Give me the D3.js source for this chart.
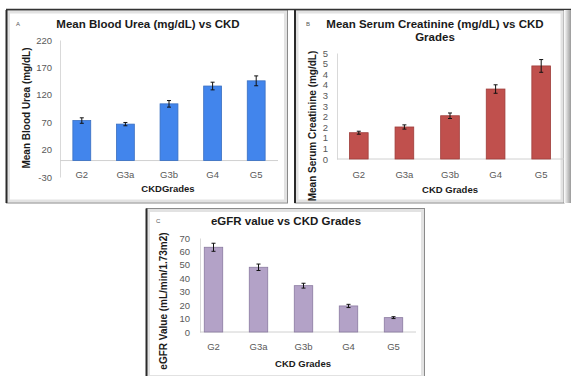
<!DOCTYPE html>
<html>
<head>
<meta charset="utf-8">
<script src="https://cdn.jsdelivr.net/npm/d3@7"></script>
<style>
  body { margin: 0; background: #fff; }
  text { font-family: "Liberation Sans", Arial, sans-serif; }
  .tick text { fill: #595959; font-size: 9.5px; }
  .title { font-weight: bold; font-size: 11.5px; fill: #1a1a1a; }
  .axisLabel { font-weight: bold; font-size: 9.5px; fill: #1a1a1a; }
  .yLabel { font-weight: bold; font-size: 10px; fill: #1a1a1a; }
  .letter { font-size: 6px; fill: #555; }
</style>
</head>
<body>
<div id="chart"></div>
<script>
// data
var grades = ["G2", "G3a", "G3b", "G4", "G5"];

var ureaMeans = [73, 66.5, 103.5, 136, 145.5];
var ureaErr = [5, 3, 6, 7, 9];
var ureaTicks = [-30, 20, 70, 120, 170, 220];

var creatMeans = [1.24, 1.51, 2.04, 3.3, 4.39];
var creatErr = [0.07, 0.1, 0.13, 0.2, 0.3];
var creatTicks = [0, 0.5, 1, 1.5, 2, 2.5, 3, 3.5, 4, 4.5, 5];
var creatTickLabels = ["0", "1", "1", "2", "2", "3", "3", "4", "4", "5", "5"];

var egfrMeans = [63.1, 48.2, 34.5, 19.4, 10.7];
var egfrErr = [3, 2.4, 1.8, 1.2, 0.7];
var egfrTicks = [0, 10, 20, 30, 40, 50, 60, 70];

var svg = d3.select("#chart")
    .append("svg")
    .attr("width", 571)
    .attr("height", 376);

svg.append("rect").attr("width", 571).attr("height", 376).attr("fill", "#fff");

// frames
function frame(x, y, w, h) {
    var g = svg.append("g");
    g.append("rect")
        .attr("x", x + 2).attr("y", y + 2)
        .attr("width", w - 4).attr("height", h - 4)
        .attr("fill", "none").attr("stroke", "#e2e2e2").attr("stroke-width", 3);
    g.append("rect")
        .attr("x", x).attr("y", y)
        .attr("width", w).attr("height", h)
        .attr("fill", "none").attr("stroke", "#8a8a8a").attr("stroke-width", 1);
    g.append("line")
        .attr("x1", x).attr("x2", x).attr("y1", y).attr("y2", y + h)
        .attr("stroke", "#2a2a2a").attr("stroke-width", 2);
}
frame(6.5, 10, 281, 193);
frame(295, 10, 269, 193);
frame(146.5, 208.5, 278, 170);
// dark top line across the upper pair
svg.append("line")
    .attr("x1", 6).attr("x2", 571).attr("y1", 9.5).attr("y2", 9.5)
    .attr("stroke", "#333").attr("stroke-width", 1.5);
// shadow on right side
var grad = svg.append("defs").append("linearGradient").attr("id", "shade");
grad.append("stop").attr("offset", "0%").attr("stop-color", "#fff");
grad.append("stop").attr("offset", "100%").attr("stop-color", "#9a9a9a");
svg.append("rect").attr("x", 564).attr("y", 10).attr("width", 7).attr("height", 193).attr("fill", "url(#shade)");

function drawPanel(opt) {
    var g = svg.append("g");

    var x = d3.scaleBand()
        .domain(grades)
        .range(opt.xRange)
        .paddingInner(opt.pad)
        .paddingOuter(opt.pad / 2);

    var y = d3.scaleLinear()
        .domain(opt.yDomain)
        .range(opt.yRange);

    var leftAxis = d3.axisLeft(y)
        .tickValues(opt.ticks)
        .tickSize(0)
        .tickPadding(opt.tickPad)
        .tickFormat(function(d, i) { return opt.tickLabels ? opt.tickLabels[i] : d; });

    var ya = g.append("g")
        .attr("transform", "translate(" + opt.axisX + ",0)")
        .call(leftAxis);
    ya.select(".domain").attr("stroke", "#d9d9d9");

    // baseline at zero
    g.append("line")
        .attr("x1", opt.axisX).attr("x2", opt.xRange[1])
        .attr("y1", y(0)).attr("y2", y(0))
        .attr("stroke", "#d0d0d0").attr("stroke-width", 1);

    // category labels
    g.selectAll(".cat")
        .data(grades)
        .enter()
        .append("text")
        .attr("x", d => x(d) + x.bandwidth() / 2)
        .attr("y", opt.catY)
        .attr("text-anchor", "middle")
        .attr("font-size", 9.5)
        .attr("fill", "#595959")
        .text(d => d);

    // bars
    g.selectAll(".bar")
        .data(opt.means)
        .enter()
        .append("rect")
        .attr("x", (d, i) => x(grades[i]))
        .attr("width", x.bandwidth())
        .attr("y", d => y(d))
        .attr("height", d => y(0) - y(d))
        .attr("fill", opt.color)
        .attr("stroke", opt.stroke)
        .attr("stroke-width", 0.8);

    // error bars
    var eg = g.append("g").attr("stroke", "#111").attr("stroke-width", 1);
    opt.means.forEach(function(m, i) {
        var cx = x(grades[i]) + x.bandwidth() / 2;
        var e = opt.err[i];
        eg.append("line").attr("x1", cx).attr("x2", cx).attr("y1", y(m + e)).attr("y2", y(m - e));
        eg.append("line").attr("x1", cx - 2).attr("x2", cx + 2).attr("y1", y(m + e)).attr("y2", y(m + e));
        eg.append("line").attr("x1", cx - 2).attr("x2", cx + 2).attr("y1", y(m - e)).attr("y2", y(m - e));
    });

    // titles
    opt.title.forEach(function(t, i) {
        g.append("text")
            .attr("class", "title")
            .attr("x", opt.titleX)
            .attr("y", opt.titleY + i * 13)
            .attr("text-anchor", "middle")
            .text(t);
    });
    g.append("text")
        .attr("class", "letter")
        .attr("x", opt.letterX)
        .attr("y", opt.titleY - 2)
        .text(opt.letter);

    g.append("text")
        .attr("class", "axisLabel")
        .attr("x", opt.xLabelX)
        .attr("y", opt.xLabelY)
        .attr("text-anchor", "middle")
        .text(opt.xLabel);

    g.append("text")
        .attr("class", "yLabel")
        .attr("transform", "translate(" + opt.yLabelX + "," + opt.yLabelY + ") rotate(-90)")
        .attr("text-anchor", "middle")
        .text(opt.yLabel);
}

drawPanel({
    means: ureaMeans, err: ureaErr, ticks: ureaTicks,
    yDomain: [-30, 220], yRange: [177, 40],
    xRange: [60, 278], pad: 0.59, axisX: 60, tickPad: 8,
    catY: 178, color: "#4285ec", stroke: "#3a6fc0",
    title: ["Mean Blood Urea (mg/dL) vs CKD"], titleX: 148, titleY: 28,
    letter: "A", letterX: 16,
    xLabel: "CKDGrades", xLabelX: 168, xLabelY: 192,
    yLabel: "Mean Blood Urea (mg/dL)", yLabelX: 30, yLabelY: 108
});

drawPanel({
    means: creatMeans, err: creatErr, ticks: creatTicks, tickLabels: creatTickLabels,
    yDomain: [0, 5], yRange: [159, 53],
    xRange: [336, 564], pad: 0.59, axisX: 337, tickPad: 9,
    catY: 178, color: "#c0504d", stroke: "#9e3d3a",
    title: ["Mean Serum Creatinine (mg/dL) vs CKD", "Grades"], titleX: 435, titleY: 28,
    letter: "B", letterX: 306,
    xLabel: "CKD Grades", xLabelX: 450, xLabelY: 193,
    yLabel: "Mean Serum Creatinine (mg/dL)", yLabelX: 316, yLabelY: 126
});

drawPanel({
    means: egfrMeans, err: egfrErr, ticks: egfrTicks,
    yDomain: [0, 70], yRange: [332, 238],
    xRange: [191, 416], pad: 0.59, axisX: 200, tickPad: 10,
    catY: 350, color: "#b3a2c7", stroke: "#8a7aa0",
    title: ["eGFR value vs CKD Grades"], titleX: 286, titleY: 225,
    letter: "C", letterX: 156,
    xLabel: "CKD Grades", xLabelX: 303, xLabelY: 367,
    yLabel: "eGFR Value (mL/min/1.73m2)", yLabelX: 167, yLabelY: 301
});
</script>
</body>
</html>
